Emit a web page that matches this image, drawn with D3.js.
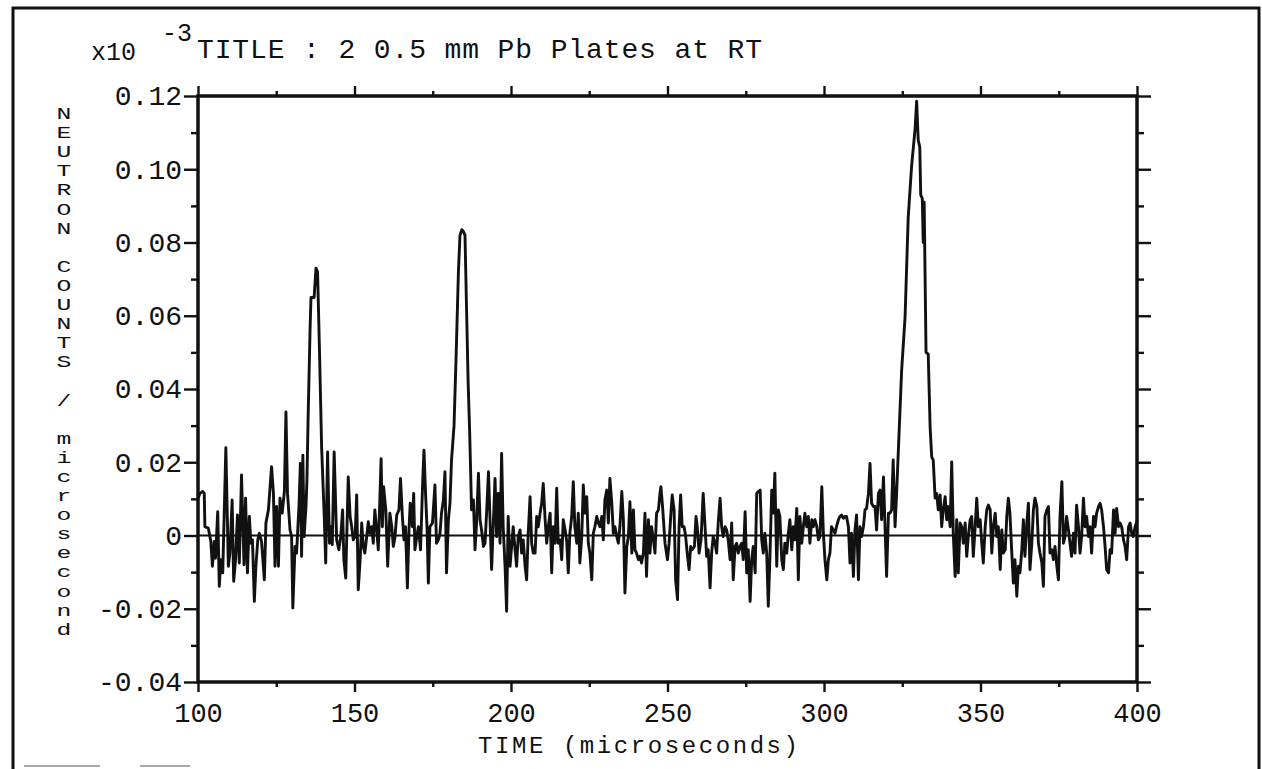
<!DOCTYPE html>
<html><head><meta charset="utf-8">
<script src="https://cdn.jsdelivr.net/npm/d3@7"></script>
<style>
html,body{margin:0;padding:0;background:#fff;}
svg{display:block;}
text{font-family:"Liberation Mono","Courier New",monospace;fill:#111;}
</style></head><body>
<svg id="chart" width="1262" height="769"></svg>
<script>
// ---- data (time in microseconds, counts in units of 1e-3 of axis) ----
const timeUs = [
100.0,100.6,101.5,102.0,102.2,103.3,104.1,104.6,105.2,105.6,
106.3,106.8,107.3,107.9,108.9,109.7,110.2,110.9,111.4,112.0,
112.6,113.2,113.9,114.7,115.2,115.8,116.4,116.9,117.4,118.0,
118.5,119.1,119.6,120.3,121.2,121.7,122.5,123.5,124.1,124.6,
125.1,125.7,126.2,126.9,127.6,128.1,128.6,129.4,129.9,130.3,
131.0,131.5,132.3,132.7,133.1,133.5,133.9,134.5,134.8,135.2,
135.8,136.1,137.1,137.7,138.2,138.8,139.5,140.3,140.8,141.4,
142.0,142.5,142.9,143.5,144.3,145.0,145.6,146.2,146.6,147.2,
148.0,148.6,149.1,149.6,150.2,150.7,151.2,151.8,152.3,152.8,
153.3,153.9,154.4,154.9,155.5,156.0,156.5,157.1,157.6,158.5,
158.9,159.3,160.0,160.6,161.3,161.9,162.4,162.9,163.5,164.2,
164.7,165.3,165.8,166.3,166.9,167.4,167.8,168.5,168.9,169.3,
169.9,170.4,171.1,171.8,172.2,172.7,173.2,173.6,174.1,174.9,
175.7,176.2,176.8,177.3,177.8,178.4,178.9,179.4,180.0,180.5,
181.0,181.8,182.5,183.2,183.7,184.3,184.8,185.3,185.8,186.3,
186.8,187.4,188.0,188.5,189.0,189.6,190.1,190.6,191.2,191.7,
192.2,192.8,193.3,193.8,194.4,194.9,195.4,195.9,196.5,197.0,
197.5,198.1,198.6,199.1,199.7,200.2,200.7,201.3,201.8,202.3,
202.9,203.4,203.9,204.5,205.0,205.5,206.1,206.6,207.1,207.7,
208.2,208.7,209.3,209.8,210.3,210.9,211.4,211.9,212.5,213.0,
213.5,214.1,214.6,215.1,215.7,216.2,216.7,217.3,217.8,218.3,
218.8,219.4,219.9,220.4,221.0,221.5,222.0,222.6,223.1,223.6,
224.2,224.7,225.2,225.8,226.3,226.8,227.4,227.9,228.4,229.0,
229.5,230.0,230.6,231.1,231.6,232.2,232.7,233.2,233.8,234.3,
234.8,235.4,235.9,236.4,237.0,237.5,238.0,238.6,239.1,239.6,
240.1,240.7,241.2,241.7,242.3,242.8,243.3,243.9,244.4,244.9,
245.5,246.0,246.5,247.1,247.6,247.9,248.5,249.2,250.0,
250.5,251.1,251.5,252.1,252.6,253.2,253.7,254.2,254.7,255.3,
255.8,256.3,256.9,257.4,257.9,258.6,259.1,259.5,260.1,260.7,
261.4,262.0,262.5,263.0,263.6,264.1,264.6,265.2,265.7,266.2,
266.8,267.3,267.8,268.4,268.9,269.4,270.0,270.5,271.0,271.6,
272.1,272.6,273.2,273.7,274.2,274.8,275.3,275.8,276.4,276.9,
277.4,278.0,278.5,279.0,279.6,280.1,280.6,281.1,281.7,282.2,
282.7,283.3,283.8,284.3,284.9,285.4,285.9,286.5,287.0,287.5,
288.1,288.6,289.1,289.7,290.2,290.7,291.3,291.8,292.3,292.9,
293.4,293.9,294.5,295.0,295.5,296.1,296.6,297.1,297.7,298.2,
298.7,299.3,299.8,300.3,300.9,301.4,301.9,302.4,303.0,303.5,
304.0,304.6,305.1,305.6,306.2,306.7,307.2,307.8,308.3,308.8,
309.4,309.9,310.4,311.0,311.5,312.0,312.6,313.1,313.6,314.2,
314.7,315.2,315.8,316.3,316.8,317.4,317.9,318.4,319.0,319.5,
320.0,320.6,321.1,321.6,322.1,322.7,323.2,323.8,
324.8,325.9,326.9,328.0,329.1,329.6,330.1,330.6,330.9,331.4,
331.7,332.0,332.6,333.3,333.9,
334.4,334.9,335.5,336.0,336.5,337.1,337.6,338.1,338.7,339.2,
339.7,340.3,340.8,341.3,341.9,342.4,342.9,343.5,344.0,344.5,
345.1,345.6,346.1,346.7,347.2,347.7,348.3,348.8,349.3,349.9,
350.4,350.9,351.5,352.0,352.5,353.1,353.6,354.1,354.7,355.2,
355.7,356.3,356.8,357.3,357.9,358.4,358.9,359.4,360.0,360.5,
361.0,361.6,362.1,362.6,363.2,363.7,364.2,364.8,365.3,365.8,
366.4,366.9,367.4,368.0,368.5,369.0,369.6,370.1,370.6,371.2,
371.7,372.2,372.8,373.3,373.8,374.4,374.9,375.4,376.0,376.5,
377.0,377.5,378.1,378.6,379.1,379.7,380.2,380.7,381.3,381.8,
382.3,382.9,383.4,383.9,384.5,385.0,385.5,386.1,386.6,387.1,
387.7,388.2,388.7,389.3,389.8,390.3,390.9,391.4,391.9,392.5,
393.0,393.5,394.1,394.6,395.1,395.7,396.2,396.7,397.3,397.8,
398.3,398.8,399.4,400.0
];
const countsE3 = [
10.0,11.5,12.0,11.5,2.4,2.0,-1.6,-8.4,-1.6,-6.2,
6.5,-13.9,-6.6,-10.2,24.0,-8.4,-4.8,9.7,-12.5,-6.6,
5.6,-7.5,16.5,-8.0,10.2,-10.2,5.2,-2.1,-1.2,-18.0,
-8.4,-1.2,0.6,-1.6,-12.1,3.4,7.0,18.8,11.5,-8.4,
7.9,-8.4,10.2,6.1,12.0,33.7,11.5,1.5,-0.3,-19.8,
-3.0,-4.8,8.8,19.7,-5.7,21.9,-0.3,7.9,15,33,
56,65,65,73,72,51,24,6,-7.5,22.8,
-2.1,2.4,-2.5,22.8,-1.2,-3.9,-0.3,7.0,-6.6,-11.6,
16.0,5.2,2.4,-1.2,-0.3,11.1,-14.8,-6.6,3.4,-3.0,
-4.8,-0.3,3.8,0.6,2.4,-2.1,7.0,1.5,-3.9,21.0,
2.4,13.3,7.0,-8.4,6.1,2.4,-3.0,-0.7,5.6,7.0,
15.6,5.2,-1.2,2.4,-14.3,1.5,8.8,2.4,11.5,-3.9,
-0.3,2.4,-3.9,15.1,23.3,11.5,1.5,-13.0,2.4,3.4,
13.8,-2.1,-1.2,0.6,6.1,9.7,17.4,-10.2,4.3,8.8,
20.6,30,50,72,82,83.5,83,82,62,42,
28,7.0,9.7,-3.9,3.4,17.0,4.3,1.5,-3.0,-2.1,
6.1,17.4,4.3,-9.3,4.3,15.6,-0.3,11.5,-2.1,22.4,
2.4,-8.4,-20.7,5.2,-8.4,-3.0,2.4,-3.9,-8.4,-0.3,
1.5,-4.8,-1.2,-8.4,-12.1,0.6,10.6,-2.1,-4.8,-4.8,
5.2,2.4,6.1,8.8,14.2,4.3,-2.1,2.4,6.1,-10.2,
2.4,-2.1,12.9,-2.1,-1.2,-6.6,4.3,1.5,-1.6,-10.2,
0.6,5.2,14.7,2.4,-2.1,6.1,-7.5,-0.3,13.8,6.1,
10.6,-2.1,-4.8,-12.1,0.6,2.4,5.2,3.4,2.4,5.2,
-1.2,9.7,12.4,3.4,15.6,8.8,0.6,2.4,-0.3,-2.1,
2.4,12.0,4.3,-15.7,-3.0,-0.3,9.2,-4.8,7.0,-3.9,
-4.8,-6.6,-5.7,-7.5,-4.8,6.1,-11.2,4.3,-4.8,2.4,
-1.2,-4.8,6.1,7.0,11.5,13.3,7.0,-2.1,-6.6,
-2.1,6.1,11.1,7.0,-12.1,-17.5,2.4,11.1,2.4,2.4,
-0.3,-4.8,-9.3,-3.0,-3.9,-3.0,5.2,2.4,-4.8,-1.2,
11.5,2.4,-5.7,-3.9,-14.3,-4.8,-0.3,-2.1,-4.8,3.4,
10.2,2.4,-0.3,2.4,1.5,-1.2,-6.6,3.4,-12.1,-3.0,
-2.1,-4.8,-3.0,-2.1,-6.6,6.5,-10.2,-3.9,-18.0,-6.6,
-3.0,-10.2,11.5,12.0,12.4,-1.2,-4.8,0.6,-4.8,-19.3,
-6.6,12.4,6.1,17.0,-8.4,7.0,5.2,-6.6,-9.3,-2.1,
-4.8,0.6,4.3,-3.9,2.4,-1.2,7.4,-12.1,5.2,-2.1,
2.4,6.1,2.4,5.2,-2.1,4.3,2.4,4.3,2.4,-1.2,
-0.3,13.3,0.6,-6.6,-12.1,-6.6,-4.8,2.4,1.5,0.6,
2.4,4.3,5.2,5.6,4.7,5.2,5.2,2.4,-7.5,0.6,
-11.2,1.5,5.6,-12.1,2.4,-0.3,2.4,7.0,7.4,11.5,
19.7,8.8,7.9,7.9,1.5,11.5,12.4,4.3,16.0,2.4,
-11.2,6.1,6.1,7.0,20.6,2.4,11.5,24.2,
45,59.6,86.8,101,111,118.6,108,106,93,92,
80,91,50,49.5,29.7,
21.5,20.6,10.2,11.5,7.0,11.1,2.4,7.0,10.6,4.3,
7.9,2.4,20.1,0.6,-11.2,4.3,-10.2,3.4,2.4,-2.1,
3.4,-5.7,-0.3,4.3,5.2,-5.7,2.4,10.2,2.4,4.3,
-2.1,-7.5,2.4,7.0,8.3,7.0,-4.8,2.4,6.1,-0.3,
2.4,-9.3,1.5,-4.8,-3.9,5.2,10.2,6.1,-4.8,-13.0,
-6.6,-16.6,-8.4,-10.2,-3.9,4.3,-5.7,3.4,8.8,-9.3,
-2.1,7.0,10.2,7.9,-2.1,-4.8,-7.5,-13.9,5.2,7.0,
7.9,-4.8,-3.9,-6.6,-3.0,-8.4,-12.1,5.2,14.7,-2.1,
-0.3,5.2,1.5,-2.1,-5.7,0.6,-4.8,8.3,2.4,-4.8,
-0.3,10.2,2.4,5.2,-0.3,2.4,-4.8,5.2,2.4,6.1,
7.9,8.8,7.0,2.4,-3.0,-9.3,-10.2,-3.9,-4.8,7.0,
0.6,7.4,2.4,3.4,2.4,-1.2,-3.0,-6.6,2.4,3.4,
0.6,-0.3,2.4,4.0
];
const xTickValues = [100,150,200,250,300,350,400];
const xTickLabels = ["100","150","200","250","300","350","400"];
const xMinorValues = [125,175,225,275,325,375];
const yTickValues = [-40,-20,0,20,40,60,80,100,120];
const yTickLabels = ["-0.04","-0.02","0","0.02","0.04","0.06","0.08","0.10","0.12"];
const yMinorValues = [-30,-10,10,30,50,70,90,110];
const titleText = "TITLE : 2 0.5 mm Pb Plates at RT";
const scaleText = "x10";
const expText = "-3";
const xLabel = "TIME (microseconds)";
const yLabel = "NEUTRON COUNTS / microsecond";

// ---- layout ----
const svg = d3.select("#chart");
const L = 198, R = 1137, T = 96, B = 682;
const INK = "#111";
svg.append("rect").attr("width",1262).attr("height",769).attr("fill","#fff");

const x = d3.scaleLinear().domain([100,400]).range([L,R]);
const y = d3.scaleLinear().domain([-40,120]).range([B,T]);

// outer frame (open at the bottom)
svg.append("path")
  .attr("d", d3.line()([[13,769],[13,8],[1259,8],[1259,769]]))
  .attr("fill","none").attr("stroke",INK).attr("stroke-width",3);

// faint scan marks at the bottom left
svg.append("line").attr("x1",24).attr("x2",100).attr("y1",766).attr("y2",766)
  .attr("stroke","#aaa").attr("stroke-width",2);
svg.append("line").attr("x1",140).attr("x2",190).attr("y1",766).attr("y2",766)
  .attr("stroke","#aaa").attr("stroke-width",2);

function styleAxis(g, fs){
  g.select(".domain").remove();
  g.selectAll(".tick line").attr("stroke",INK).attr("stroke-width",2.4);
  g.selectAll("text").attr("font-family","Liberation Mono, Courier New, monospace")
    .attr("font-size",fs || 28).attr("fill",INK);
}
// bottom
svg.append("g").attr("transform",`translate(0,${B})`)
  .call(d3.axisBottom(x).tickValues(xMinorValues).tickSize(5).tickFormat(""))
  .call(styleAxis);
svg.append("g").attr("transform",`translate(0,${B})`)
  .call(d3.axisBottom(x).tickValues(xTickValues).tickSize(10).tickPadding(11)
        .tickFormat((d,i)=>xTickLabels[i]))
  .call(g=>styleAxis(g,27));
// top
svg.append("g").attr("transform",`translate(0,${T})`)
  .call(d3.axisTop(x).tickValues(xMinorValues).tickSize(5).tickFormat(""))
  .call(styleAxis);
svg.append("g").attr("transform",`translate(0,${T})`)
  .call(d3.axisTop(x).tickValues(xTickValues).tickSize(10).tickFormat(""))
  .call(styleAxis);
// left
svg.append("g").attr("transform",`translate(${L},0)`)
  .call(d3.axisLeft(y).tickValues(yMinorValues).tickSize(7).tickFormat(""))
  .call(styleAxis);
svg.append("g").attr("transform",`translate(${L},0)`)
  .call(d3.axisLeft(y).tickValues(yTickValues).tickSize(14).tickPadding(2)
        .tickFormat((d,i)=>yTickLabels[i]))
  .call(styleAxis);
// right
svg.append("g").attr("transform",`translate(${R},0)`)
  .call(d3.axisRight(y).tickValues(yMinorValues).tickSize(7).tickFormat(""))
  .call(styleAxis);
svg.append("g").attr("transform",`translate(${R},0)`)
  .call(d3.axisRight(y).tickValues(yTickValues).tickSize(14).tickFormat(""))
  .call(styleAxis);

// zero reference line
svg.append("line").attr("x1",x(100)).attr("x2",x(400)).attr("y1",y(0)).attr("y2",y(0))
  .attr("stroke",INK).attr("stroke-width",2.2);

// data trace
const pts = timeUs.map((t,i)=>[t,countsE3[i]]);
svg.append("path").datum(pts)
  .attr("d", d3.line().x(d=>x(d[0])).y(d=>y(d[1])))
  .attr("fill","none").attr("stroke",INK).attr("stroke-width",2.9)
  .attr("stroke-linejoin","round").attr("stroke-linecap","round");

// plot frame
svg.append("rect").attr("x",L).attr("y",T).attr("width",R-L).attr("height",B-T)
  .attr("fill","none").attr("stroke",INK).attr("stroke-width",3.5);

// title
svg.append("text").attr("x",91).attr("y",60).attr("font-size",25).text(scaleText);
svg.append("text").attr("x",162).attr("y",41).attr("font-size",25).text(expText);
svg.append("text").attr("x",197).attr("y",58).attr("font-size",28)
  .attr("textLength",565).attr("lengthAdjust","spacing").text(titleText);

// x label
svg.append("text").attr("x",478).attr("y",753).attr("font-size",24)
  .attr("textLength",320).attr("lengthAdjust","spacing").text(xLabel);

// y label: stacked upright letters (wide, short glyphs)
const yl = svg.append("g");
yLabel.split("").forEach((ch,i)=>{
  yl.append("text")
    .attr("transform",`translate(64,${119 + i*19.1}) scale(1.5,1)`)
    .attr("text-anchor","middle").attr("font-size",16.5).text(ch);
});
</script>
</body></html>
